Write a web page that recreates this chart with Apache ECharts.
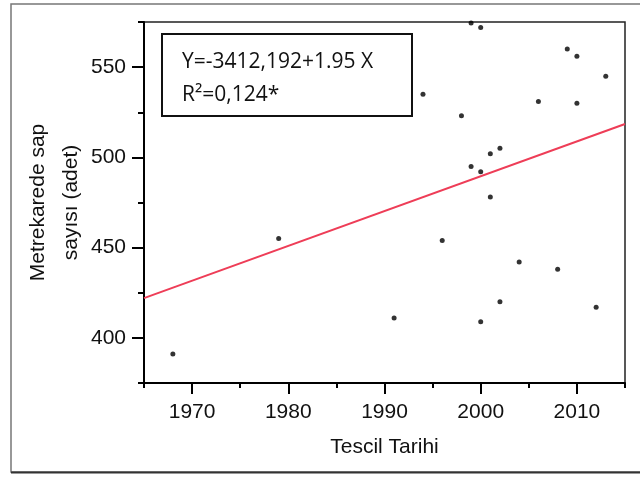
<!DOCTYPE html>
<html>
<head>
<meta charset="utf-8">
<script src="https://cdn.jsdelivr.net/npm/echarts@6/dist/echarts.min.js"></script>
<style>
html,body{margin:0;padding:0;background:#fff;}
#c{width:640px;height:477px;}
</style>
</head>
<body>
<div id="c"></div>
<script>
// Data
const years  = [1968, 1979, 1991, 1994, 1996, 1998, 1999, 1999, 2000, 2000, 2000, 2001, 2001, 2002, 2002, 2004, 2006, 2008, 2009, 2010, 2010, 2012, 2013];
const counts = [391, 455, 411, 535, 454, 523, 574.5, 495, 572, 492, 409, 502, 478, 505, 420, 442, 531, 438, 560, 556, 530, 417, 545];
const fitX = [1965, 2015];
const fitY = [422, 518.5];
const xMajorTicks = [1970, 1980, 1990, 2000, 2010];
const xMinorTicks = [1965, 1975, 1985, 1995, 2005, 2015];
const yMajorTicks = [400, 450, 500, 550];
const yMinorTicks = [375, 425, 475, 525, 575];
const xTitle = 'Tescil Tarihi';
const yTitle = 'Metrekarede sap\nsayısı (adet)';
const eqLine1 = 'Y=-3412,192+1.95 X';
const eqLine2 = 'R²=0,124*';

const FONT = '"Liberation Sans", Arial, sans-serif';
const chart = echarts.init(document.getElementById('c'), null, {renderer: 'canvas'});

const xBase = {type: 'value', min: 1965, max: 2015, gridIndex: 0};
const yBase = {type: 'value', min: 375, max: 575, gridIndex: 0};

chart.setOption({
  animation: false,
  backgroundColor: '#fff',
  grid: {left: 144, right: 15, top: 22, bottom: 94, show: true, borderColor: '#222', borderWidth: 1.5, backgroundColor: 'transparent'},
  xAxis: [
    Object.assign({}, xBase, {
      position: 'bottom',
      name: xTitle, nameLocation: 'middle', nameGap: 54, nameMoveOverlap: false,
      nameTextStyle: {fontFamily: FONT, fontSize: 21, color: '#111'},
      axisLine: {show: true, lineStyle: {color: '#000', width: 2}},
      axisTick: {show: true, length: 11, lineStyle: {color: '#000', width: 2}, customValues: xMajorTicks},
      axisLabel: {show: true, margin: 19, fontFamily: FONT, fontSize: 21, color: '#111', customValues: xMajorTicks,
        formatter: v => String(v)},
      splitLine: {show: false}
    }),
    Object.assign({}, xBase, {
      position: 'bottom',
      axisLine: {show: false},
      axisTick: {show: true, length: 5, lineStyle: {color: '#000', width: 2}, customValues: xMinorTicks},
      axisLabel: {show: false},
      splitLine: {show: false}
    })
  ],
  yAxis: [
    Object.assign({}, yBase, {
      position: 'left',
      name: yTitle, nameLocation: 'middle', nameGap: 56, nameMoveOverlap: false,
      nameTextStyle: {fontFamily: FONT, fontSize: 21, color: '#111', lineHeight: 33, align: 'center'},
      axisLine: {show: true, lineStyle: {color: '#000', width: 2}},
      axisTick: {show: true, length: 12, lineStyle: {color: '#000', width: 2}, customValues: yMajorTicks},
      axisLabel: {show: true, margin: 18, fontFamily: FONT, fontSize: 21, color: '#111', customValues: yMajorTicks,
        formatter: v => String(v)},
      splitLine: {show: false}
    }),
    Object.assign({}, yBase, {
      position: 'left',
      axisLine: {show: false},
      axisTick: {show: true, length: 6, lineStyle: {color: '#000', width: 2}, customValues: yMinorTicks},
      axisLabel: {show: false},
      splitLine: {show: false}
    })
  ],
  series: [
    {
      type: 'line',
      xAxisIndex: 0, yAxisIndex: 0,
      data: fitX.map((x, i) => [x, fitY[i]]),
      showSymbol: false,
      lineStyle: {color: '#ee3d57', width: 2},
      z: 2
    },
    {
      type: 'scatter',
      xAxisIndex: 0, yAxisIndex: 0,
      data: years.map((x, i) => [x, counts[i]]),
      symbol: 'circle',
      symbolSize: 5,
      itemStyle: {color: '#000'},
      clip: false,
      z: 3
    }
  ],
  graphic: [
    {
      type: 'rect', silent: true, z: 0,
      shape: {x: 11, y: 4, width: 700, height: 468},
      style: {fill: 'none', stroke: '#777', lineWidth: 1.5}
    },
    {
      type: 'line', silent: true, z: 0,
      shape: {x1: 11, y1: 472.5, x2: 640, y2: 472.5},
      style: {stroke: '#333', lineWidth: 2}
    },
    {
      type: 'rect', silent: true, z: 10,
      shape: {x: 162, y: 34, width: 250, height: 82},
      style: {fill: '#fff', stroke: '#111', lineWidth: 2}
    },
    {
      type: 'text', silent: true, z: 11,
      x: 182, y: 62,
      style: {text: eqLine1, fontFamily: '"Open Sans", sans-serif', fontSize: 21, fill: '#111', verticalAlign: 'middle', align: 'left'}
    },
    {
      type: 'text', silent: true, z: 11,
      x: 182, y: 95,
      style: {text: eqLine2, fontFamily: '"Open Sans", sans-serif', fontSize: 21, fill: '#111', verticalAlign: 'middle', align: 'left'}
    }
  ]
});
</script>
</body>
</html>
